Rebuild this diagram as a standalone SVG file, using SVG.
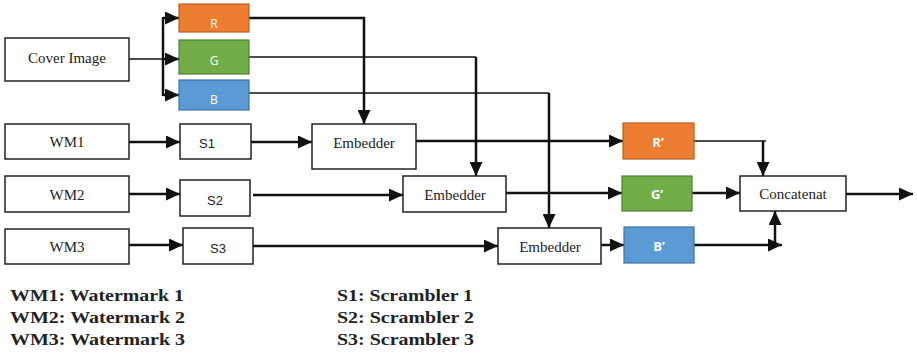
<svg xmlns="http://www.w3.org/2000/svg" width="917" height="357" viewBox="0 0 917 357">
  <style>
    .box { fill: #ffffff; stroke: #222222; stroke-width: 1.5; }
    .r { fill: #ED7D31; stroke: #B85F20; stroke-width: 1.2; }
    .g { fill: #70AD47; stroke: #4E7F30; stroke-width: 1.2; }
    .b { fill: #5B9BD5; stroke: #3F72A2; stroke-width: 1.2; }
    .serif { font-family: 'Liberation Serif', serif; font-size: 15px; fill: #222222; text-anchor: middle; }
    .sans { font-family: 'Liberation Sans', sans-serif; font-size: 13px; fill: #222222; text-anchor: middle; }
    .chan { font-family: 'Open Sans', 'Liberation Sans', sans-serif; font-size: 12px; fill: #ffffff; text-anchor: middle; }
    .chanb { font-family: 'Open Sans', 'Liberation Sans', sans-serif; font-size: 13px; font-weight: bold; fill: #ffffff; text-anchor: middle; }
    .legend { font-family: 'Liberation Serif', serif; font-size: 17px; font-weight: bold; fill: #222222; }
    .thick { fill: none; stroke: #111111; stroke-width: 2.5; }
    .thin { fill: none; stroke: #111111; stroke-width: 1.5; }
  </style>
  <defs>
    <marker id="arrow" viewBox="0 0 14 13" refX="14" refY="6.5" markerWidth="14" markerHeight="13" markerUnits="userSpaceOnUse" orient="auto">
      <path d="M0,0 L14,6.5 L0,13 z" fill="#111111"/>
    </marker>
  </defs>

  <!-- connectors -->
  <g id="connectors">
    <!-- cover image split bus -->
    <path class="thin" d="M129,59 H163"/>
    <path class="thick" d="M163,17 V96"/>
    <path class="thick" d="M163,18 H179" marker-end="url(#arrow)"/>
    <path class="thick" d="M163,59 H179" marker-end="url(#arrow)"/>
    <path class="thick" d="M163,95 H179" marker-end="url(#arrow)"/>
    <!-- channels down to embedders -->
    <path class="thick" d="M249,18 H364 V124" marker-end="url(#arrow)"/>
    <path class="thin" d="M249,57 H476"/>
    <path class="thick" d="M476,57 V176" marker-end="url(#arrow)"/>
    <path class="thin" d="M249,93 H549"/>
    <path class="thick" d="M549,93 V228" marker-end="url(#arrow)"/>
    <!-- watermarks to scramblers -->
    <path class="thick" d="M129,142 H180" marker-end="url(#arrow)"/>
    <path class="thick" d="M129,194 H180" marker-end="url(#arrow)"/>
    <path class="thick" d="M129,245 H183" marker-end="url(#arrow)"/>
    <!-- scramblers to embedders -->
    <path class="thick" d="M251,142 H312" marker-end="url(#arrow)"/>
    <path class="thick" d="M253,195 H403" marker-end="url(#arrow)"/>
    <path class="thick" d="M253,246 H498" marker-end="url(#arrow)"/>
    <!-- embedders to watermarked channels -->
    <path class="thick" d="M416,141 H623" marker-end="url(#arrow)"/>
    <path class="thick" d="M506,193 H622" marker-end="url(#arrow)"/>
    <path class="thick" d="M601,245 H624" marker-end="url(#arrow)"/>
    <!-- channels into concatenation -->
    <path class="thin" d="M694,141 H766"/>
    <path class="thick" d="M763,141 V176" marker-end="url(#arrow)"/>
    <path class="thick" d="M692,193 H740" marker-end="url(#arrow)"/>
    <path class="thick" d="M694,245 H782" marker-end="url(#arrow)"/>
    <path class="thick" d="M775,245 V211" marker-end="url(#arrow)"/>
    <!-- output -->
    <path class="thick" d="M846,194 H913" marker-end="url(#arrow)"/>
  </g>

  <g id="cover-image">
    <rect class="box" x="5" y="38" width="124" height="43"/>
    <text class="serif" x="67" y="63">Cover Image</text>
  </g>
  <g id="r">
    <rect class="r" x="179" y="4" width="70" height="28"/>
    <text class="chan" x="214" y="28">R</text>
  </g>
  <g id="g">
    <rect class="g" x="179" y="40" width="70" height="34"/>
    <text class="chan" x="214" y="65">G</text>
  </g>
  <g id="b">
    <rect class="b" x="179" y="80" width="70" height="30"/>
    <text class="chan" x="214" y="104">B</text>
  </g>

  <g id="wm1">
    <rect class="box" x="5" y="124" width="124" height="35"/>
    <text class="serif" x="67" y="147">WM1</text>
  </g>
  <g id="wm2">
    <rect class="box" x="5" y="176" width="124" height="36"/>
    <text class="serif" x="67" y="200">WM2</text>
  </g>
  <g id="wm3">
    <rect class="box" x="5" y="229" width="124" height="35"/>
    <text class="serif" x="67" y="252">WM3</text>
  </g>

  <g id="s1">
    <rect class="box" x="180" y="124" width="71" height="35"/>
    <text class="sans" x="207" y="148">S1</text>
  </g>
  <g id="s2">
    <rect class="box" x="180" y="180" width="70" height="36"/>
    <text class="sans" x="215" y="205">S2</text>
  </g>
  <g id="s3">
    <rect class="box" x="183" y="228" width="70" height="36"/>
    <text class="sans" x="218" y="253">S3</text>
  </g>

  <g id="embedder1">
    <rect class="box" x="312" y="124" width="104" height="45"/>
    <text class="serif" x="364" y="148">Embedder</text>
  </g>
  <g id="embedder2">
    <rect class="box" x="403" y="176" width="103" height="36"/>
    <text class="serif" x="455" y="200">Embedder</text>
  </g>
  <g id="embedder3">
    <rect class="box" x="498" y="228" width="103" height="36"/>
    <text class="serif" x="550" y="252">Embedder</text>
  </g>

  <g id="r-prime">
    <rect class="r" x="623" y="123" width="71" height="36"/>
    <text class="chanb" x="658" y="147">R’</text>
  </g>
  <g id="g-prime">
    <rect class="g" x="622" y="176" width="70" height="35"/>
    <text class="chanb" x="657" y="199">G’</text>
  </g>
  <g id="b-prime">
    <rect class="b" x="624" y="227" width="70" height="36"/>
    <text class="chanb" x="659" y="251">B’</text>
  </g>

  <g id="concatenat">
    <rect class="box" x="740" y="176" width="106" height="35"/>
    <text class="serif" x="793" y="199">Concatenat</text>
  </g>

  <g id="legend">
    <text class="legend" x="10" y="301" textLength="174" lengthAdjust="spacingAndGlyphs">WM1: Watermark 1</text>
    <text class="legend" x="10" y="323" textLength="175" lengthAdjust="spacingAndGlyphs">WM2: Watermark 2</text>
    <text class="legend" x="10" y="345" textLength="175" lengthAdjust="spacingAndGlyphs">WM3: Watermark 3</text>
    <text class="legend" x="337" y="301" textLength="136" lengthAdjust="spacingAndGlyphs">S1: Scrambler 1</text>
    <text class="legend" x="337" y="323" textLength="137" lengthAdjust="spacingAndGlyphs">S2: Scrambler 2</text>
    <text class="legend" x="337" y="345" textLength="137" lengthAdjust="spacingAndGlyphs">S3: Scrambler 3</text>
  </g>
</svg>
